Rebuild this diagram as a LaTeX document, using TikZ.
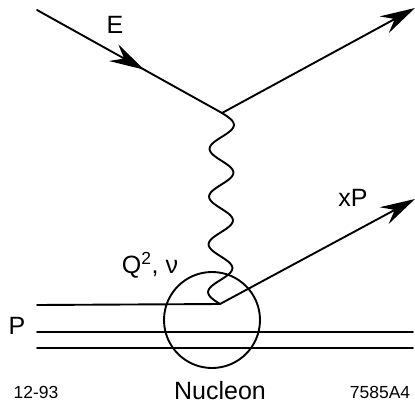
\documentclass[tikz,border=0pt]{standalone}
\usepackage{fontspec}
\setmainfont{Liberation Sans}
\usetikzlibrary{arrows.meta,decorations.markings}
\tikzset{
  line/.style={line width=1.9pt, line cap=round},
  tip/.style={-{Stealth[length=35pt,width=19pt,inset=12pt]}},
  midtip/.style={postaction={decorate},decoration={markings,
     mark=at position 0.58 with {\arrow{Stealth[length=35pt,width=19pt,inset=12pt]}}}},
  biglbl/.style={font=\fontsize{25}{25}\selectfont, inner sep=0pt},
  smalllbl/.style={font=\fontsize{17.5}{17.5}\selectfont, inner sep=0pt}
}
\begin{document}
\begin{tikzpicture}[x=1pt,y=-1pt]
\useasboundingbox (0,0) rectangle (415,415);
% vertices
\coordinate (ein) at (37,10);
\coordinate (v1) at (222,113);
\coordinate (eout) at (415,8);
\coordinate (qv) at (220,304);
\coordinate (qout) at (415,199);
\coordinate (pl1) at (37,305);
\coordinate (pl2) at (37,332);
\coordinate (pr2) at (413,332);
\coordinate (pl3) at (37,348);
\coordinate (pr3) at (413,348);
% nucleon circle
\node[circle, draw, line width=1.9pt, minimum size=96pt, inner sep=0pt] (nuc) at (212,320) {};
% electron lines
\draw[line, midtip] (ein) -- (v1);
\draw[line, tip] (v1) -- (eout);
% photon
\draw[line width=1.9pt] plot[domain=0:1, samples=300, smooth]
  ({222 - 2*\x + 12*sin(\x*1440)}, {113 + 191*\x});
% quark lines
\draw[line] (pl1) -- (qv);
\draw[line, tip] (qv) -- (qout);
\draw[line] (pl2) -- (pr2);
\draw[line] (pl3) -- (pr3);
% labels
\node[biglbl] (lE) at (115,25) {E};
\node[biglbl] (lQ) at (150,265) {Q\textsuperscript{2}, ν};
\node[biglbl] (lx) at (353,198) {xP};
\node[biglbl] (lP) at (17,326) {P};
\node[smalllbl] (ldate) at (36,392) {12-93};
\node[biglbl] (lnuc) at (220,391) {Nucleon};
\node[smalllbl] (lid) at (380,392) {7585A4};
\end{tikzpicture}
\end{document}
